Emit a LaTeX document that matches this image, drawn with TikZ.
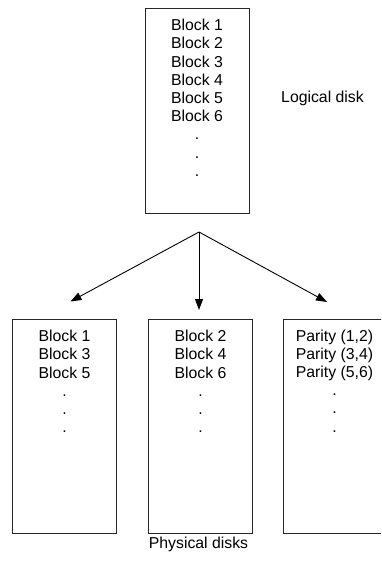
\documentclass[tikz,border=0pt]{standalone}
\usepackage{fontspec}
\setmainfont{Liberation Sans}
\usetikzlibrary{arrows.meta}
\begin{document}
\begin{tikzpicture}[x=1pt,y=-1pt,
  disk/.style={draw=black!85, line width=1pt, minimum width=104pt, inner sep=0pt},
  txt/.style={font=\fontsize{15.8}{18.2}\selectfont, align=center, inner sep=0pt},
  lbl/.style={font=\fontsize{15.8}{18}\selectfont, inner sep=0pt},
  arr/.style={line width=0.9pt, -{Triangle[length=11pt,width=8pt]}}]
\useasboundingbox (0,0) rectangle (381,563);
\clip (0,0) rectangle (381,563);
% logical disk
\node[disk, minimum height=205pt, anchor=north west] (ld) at (145,8) {};
\node[txt, anchor=north] (ldt) at (197,19) {Block 1\\Block 2\\Block 3\\Block 4\\Block 5\\Block 6\\.\\.\\.};
\node[lbl, anchor=base] (ldl) at (322.5,102) {Logical disk};
% physical disks
\node[disk, minimum height=214pt, anchor=north west] (pa) at (12,319) {};
\node[disk, minimum height=214pt, anchor=north west] (pb) at (148,319) {};
\node[disk, minimum height=214pt, anchor=north west] (pc) at (283,319) {};
\node[txt, anchor=north] (pat) at (64.5,330) {Block 1\\Block 3\\Block 5\\.\\.\\.};
\node[txt, anchor=north] (pbt) at (200.5,330) {Block 2\\Block 4\\Block 6\\.\\.\\.};
\node[txt, anchor=north] (pct) at (334.5,329.5) {Parity (1,2)\\Parity (3,4)\\Parity (5,6)\\.\\.\\.};
\node[lbl, anchor=base] (pdl) at (198.5,548) {Physical disks};
% arrows
\coordinate (src) at (199,232);
\coordinate (ta) at (70.5,301.5);
\coordinate (tb) at (199,310);
\coordinate (tc) at (327,302);
\draw[arr] (src) -- (ta);
\draw[arr] (src) -- (tb);
\draw[arr] (src) -- (tc);
\end{tikzpicture}
\end{document}
